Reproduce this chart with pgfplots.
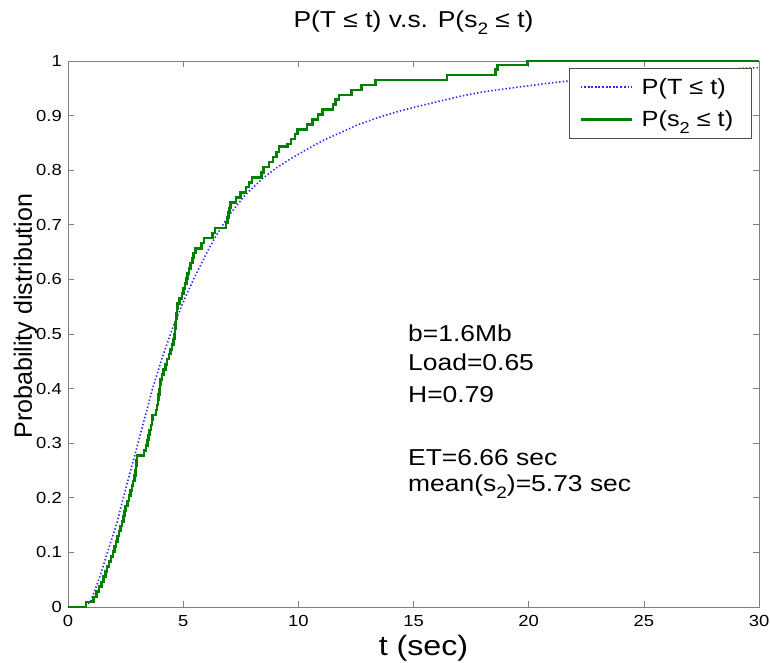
\documentclass[border=0pt]{standalone}
\usepackage{pgfplots}
\pgfplotsset{compat=1.18}
\usepackage{graphicx}
\usepackage{fontspec}
\setmainfont{Liberation Sans}[FakeStretch=1.15]
\newfontfamily\ylfont{Liberation Sans}
\definecolor{mgreen}{RGB}{0,128,0}
\definecolor{mblue}{RGB}{40,40,255}
\newcommand\sbs[1]{\raisebox{-0.55ex}{\scalebox{0.72}{#1}}}
\begin{document}
\begin{tikzpicture}
\begin{axis}[
  scale only axis, width=691pt, height=546pt,
  xmin=0, xmax=30, ymin=0, ymax=1,
  xtick={0,5,10,15,20,25,30},
  ytick={0,0.1,0.2,0.3,0.4,0.5,0.6,0.7,0.8,0.9,1},
  yticklabels={0,0.1,0.2,0.3,0.4,0.5,0.6,0.7,0.8,0.9,1},
  xticklabels={0,5,10,15,20,25,30},
  tick align=inside, major tick length=6pt,
  tick style={black!50, line width=0.6pt},
  axis line style={black!50, line width=0.8pt},
  ticklabel style={font=\fontsize{16}{18}\selectfont},
  xticklabel style={anchor=north, inner sep=0pt, yshift=-8pt},
  yticklabel style={anchor=east, inner sep=0pt, xshift=-6pt},
  /pgf/number format/assume math mode=true,
  title={P(T ≤ t) v.s. P(s\sbs{2} ≤ t)},
  title style={at={(rel axis cs:0.5,1)}, anchor=base, yshift=27pt, inner sep=0pt, font=\fontsize{23}{27}\selectfont},
  xlabel={t (sec)},
  xlabel style={at={(rel axis cs:0.5,0)}, anchor=base, yshift=-48pt, xshift=10pt, inner sep=0pt, font=\fontsize{28}{30}\selectfont},
  ylabel={\ylfont Probability distribution},
  ylabel style={at={(rel axis cs:0,0.5)}, anchor=base, yshift=36pt, xshift=18pt, inner sep=0pt, font=\fontsize{25}{28}\selectfont},
  clip mode=individual,
  legend style={at={(rel axis cs:1,1)}, anchor=north east, xshift=-7pt, yshift=-7pt,
    draw=black!70, fill=white, line width=0.6pt, font=\fontsize{22}{24}\selectfont,
    inner xsep=10pt, inner ysep=9pt, row sep=13pt, column sep=0pt, nodes={inner xsep=8.5pt, inner ysep=1pt}},
  legend cell align=left,
  legend image code/.code={\path (0pt,0pt) -- (51pt,0pt); \draw[#1] (3pt,0pt) -- (46pt,0pt);},
]
\addplot[mblue, line width=1.6pt, dash pattern=on 1.4pt off 2.2pt] coordinates {
(0,0) (0.75,0) (1.0,0.012) (1.33,0.049) (1.7,0.098) (2.13,0.155) (2.4,0.2)
(2.88,0.275) (3.21,0.327) (3.65,0.397) (4.1,0.458) (4.56,0.513) (5.0,0.558)
(5.46,0.601) (6.11,0.656) (6.5,0.685) (6.98,0.717) (7.7,0.755) (8.43,0.784)
(9.0,0.803) (9.67,0.821) (10.4,0.839) (11.1,0.855) (12.0,0.872) (12.57,0.883)
(13.5,0.897) (14.45,0.909) (15.3,0.918) (16.19,0.927) (17.1,0.936) (18.1,0.944)
(19.5,0.952) (21,0.960) (22.5,0.967) (24,0.973) (25.5,0.977) (27,0.981)
(28.5,0.985) (30,0.988)
};
\addlegendentry{P(T ≤ t)}
\addplot[mgreen, line width=2.6pt, const plot] coordinates {
(0,0) (0.78,0.0093) (1.12,0.0185) (1.25,0.028) (1.35,0.037) (1.45,0.046)
(1.55,0.056) (1.62,0.065) (1.70,0.074) (1.78,0.083) (1.86,0.093) (1.95,0.102)
(2.02,0.111) (2.08,0.12) (2.15,0.13) (2.22,0.139) (2.27,0.148) (2.34,0.157)
(2.40,0.167) (2.45,0.176) (2.50,0.185) (2.58,0.194) (2.65,0.204) (2.72,0.213)
(2.78,0.222) (2.83,0.231) (2.88,0.241) (2.92,0.25) (2.95,0.259) (2.98,0.268)
(3.00,0.278) (3.30,0.287) (3.38,0.296) (3.45,0.306) (3.50,0.315) (3.55,0.324)
(3.60,0.333) (3.65,0.343) (3.68,0.352) (3.82,0.361) (3.86,0.370) (3.90,0.380)
(3.93,0.389) (3.96,0.398) (3.99,0.407) (4.02,0.417) (4.08,0.426) (4.14,0.435)
(4.22,0.444) (4.30,0.454) (4.38,0.463) (4.45,0.472) (4.52,0.481) (4.58,0.491)
(4.62,0.50) (4.65,0.509) (4.67,0.519) (4.69,0.528) (4.71,0.537) (4.73,0.546)
(4.75,0.556) (4.85,0.565) (4.95,0.574) (5.02,0.583) (5.08,0.593) (5.14,0.602)
(5.20,0.611) (5.26,0.620) (5.33,0.630) (5.40,0.639) (5.46,0.648) (5.53,0.657)
(5.80,0.667) (5.90,0.676) (6.28,0.685) (6.38,0.694) (6.86,0.704) (6.92,0.713)
(6.97,0.722) (7.02,0.731) (7.06,0.741) (7.30,0.75) (7.48,0.759) (7.72,0.769)
(7.85,0.778) (7.98,0.787) (8.40,0.796) (8.50,0.806) (8.72,0.815) (8.90,0.824)
(9.05,0.833) (9.16,0.843) (9.52,0.848) (9.68,0.857) (9.85,0.866) (9.96,0.875)
(10.38,0.884) (10.62,0.893) (10.85,0.902) (11.05,0.911) (11.50,0.920)
(11.62,0.929) (11.77,0.938) (12.30,0.947) (12.75,0.956) (13.35,0.965)
(16.45,0.974) (18.55,0.984) (18.65,0.993) (19.95,1.0) (30,1.0)
};
\addlegendentry{P(s\sbs{2} ≤ t)}
\node[anchor=base west, inner sep=0pt, font=\fontsize{23}{27}\selectfont] at (axis cs:14.76,0.487) {b=1.6Mb};
\node[anchor=base west, inner sep=0pt, font=\fontsize{23}{27}\selectfont] at (axis cs:14.76,0.433) {Load=0.65};
\node[anchor=base west, inner sep=0pt, font=\fontsize{23}{27}\selectfont] at (axis cs:14.76,0.374) {H=0.79};
\node[anchor=base west, inner sep=0pt, font=\fontsize{23}{27}\selectfont] at (axis cs:14.76,0.260) {ET=6.66 sec};
\node[anchor=base west, inner sep=0pt, font=\fontsize{23}{27}\selectfont] at (axis cs:14.76,0.211) {mean(s\sbs{2})=5.73 sec};
\end{axis}
\pgfresetboundingbox
\path[use as bounding box] ([xshift=-68pt,yshift=-56pt]current axis.south west) rectangle ([xshift=11pt,yshift=61pt]current axis.north east);
\end{tikzpicture}
\end{document}
